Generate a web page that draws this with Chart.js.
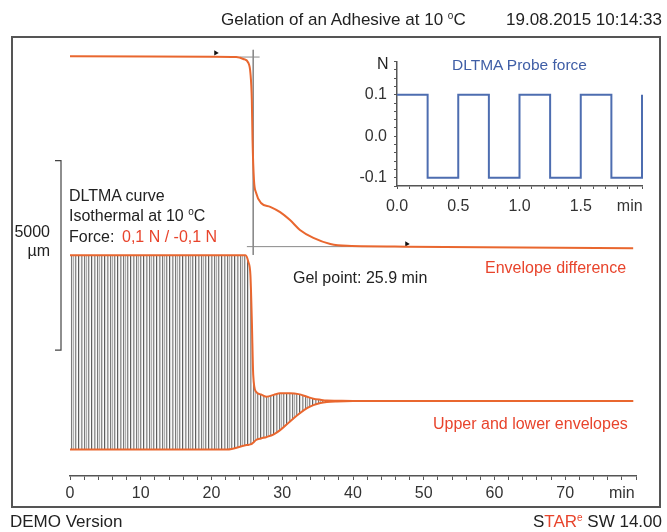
<!DOCTYPE html>
<html lang="en">
<head>
<meta charset="UTF-8" />
<title>Gelation of an Adhesive at 10 °C</title>
<script src="https://cdn.jsdelivr.net/npm/chart.js"></script>
<style>
  body { margin: 0; background: #fff; font-family: "Liberation Sans", Arial, sans-serif; color: #222; }
  .page { position: relative; width: 667px; height: 532px; overflow: hidden; }
  .frame { position: absolute; left: 11px; top: 36px; width: 650px; height: 472px; box-sizing: border-box; border: 2px solid #555; }
  canvas { position: absolute; }
  .txt { position: absolute; font-size: 16px; line-height: 20px; white-space: nowrap; }
  .big { font-size: 17px; }
  .red { color: #e8442c; }
  .blue { color: #3f5ea6; }
  sup { font-size: 10px; vertical-align: 6px; line-height: 0; }
</style>
</head>
<body>
<div class="page">
  <div class="frame"></div>
  <canvas id="mainChart" width="667" height="532" style="left:0;top:0"></canvas>
  <canvas id="insetChart" width="330" height="175" style="left:330px;top:45px"></canvas>

  <div class="txt big" style="left:221px;top:10px">Gelation of an Adhesive at 10 <sup>o</sup>C</div>
  <div class="txt big" style="right:5px;top:10px">19.08.2015 10:14:33</div>
  <div class="txt big" style="left:10px;top:512px">DEMO Version</div>
  <div class="txt big" style="right:5px;top:512px">S<span class="red">TAR<sup>e</sup></span> SW 14.00</div>

  <div class="txt" style="left:69px;top:186px">DLTMA curve</div>
  <div class="txt" style="left:69px;top:206px">Isothermal at 10 <sup>o</sup>C</div>
  <div class="txt" style="left:69px;top:227px">Force:</div>
  <div class="txt red" style="left:122px;top:227px">0,1 N / -0,1 N</div>
  <div class="txt" style="right:617px;top:222px">5000</div>
  <div class="txt" style="right:617px;top:241px">µm</div>

  <div class="txt" style="left:293px;top:268px">Gel point: 25.9 min</div>
  <div class="txt red" style="left:485px;top:258px">Envelope difference</div>
  <div class="txt red" style="left:433px;top:414px">Upper and lower envelopes</div>

  <div class="txt" style="left:377px;top:54px">N</div>
  <div class="txt blue" style="left:452px;top:55px;font-size:15.5px">DLTMA Probe force</div>
</div>

<script>
  // main curve, time in min, displacement in µm
  const gelPoint = 25.9;
  const envDiffT  = [0, 20, 23.5, 24.5, 25.2, 25.5, 25.7, 25.8, 26.0, 26.3, 27.0, 28.3, 29.7, 31.1, 32.5, 34.4, 36.8, 39.2, 47.6, 79.6];
  const envDiffUm = [10370, 10360, 10350, 10300, 10200, 9930, 9220, 8160, 7110, 6770, 6500, 6400, 6260, 6050, 5790, 5580, 5420, 5370, 5350, 5310];

  // upper and lower envelopes of the oscillating DLTMA signal
  const envT       = [0, 22.2, 24.8, 25.2, 25.5, 25.7, 25.9, 26.3, 27.0, 27.8, 28.8, 29.7, 31.1, 32.3, 33.5, 34.4, 35.4, 36.3, 37.7, 40, 79.6];
  const upperEnvUm = [5120, 5120, 5120, 4950, 4600, 3420, 1960, 1520, 1450, 1390, 1440, 1480, 1480, 1460, 1390, 1340, 1310, 1290, 1285, 1280, 1280];
  const lowerEnvUm = [0, 0, 110, 120, 135, 150, 180, 250, 290, 330, 400, 510, 740, 930, 1090, 1170, 1225, 1250, 1265, 1275, 1280];

  // gel point construction
  const gelVertUm = [10540, 5130];
  const gelStartLine = { t: [24.0, 26.8], um: 10350 };
  const gelEndLine = { t: [25.0, 48], um: 5350 };
  const markerT  = [20.6, 47.6];
  const markerUm = [10460, 5420];
  const scaleBarUm = [2620, 7620];   // 5000 µm

  const timeLabels = [0, 10, 20, 30, 40, 50, 60, 70];

  // inset: probe force square wave
  const forceT = [0, 0.25, 0.5, 0.75, 1.0, 1.25, 1.5, 1.75, 2.0];
  const forceN = [0.1, -0.1, 0.1, -0.1, 0.1, -0.1, 0.1, -0.1, 0.1];
  const forceLabels = { 0: '0.0', 5: '0.5', 10: '1.0', 15: '1.5', 19: 'min' };
  const newtonLabels = { 10: '0.1', 0: '0.0', '-10': '-0.1' };

  const family = "'Liberation Sans', Arial, sans-serif";
  const orange = '#e9672f';
  const pts = (xs, ys) => xs.map((x, i) => ({ x: x, y: Array.isArray(ys) ? ys[i] : ys }));

  // the oscillation between the envelopes is shown as vertical gray strokes
  function stripePattern() {
    const cols = ['#5f5f5f', '#d8d8d8', '#f7f7f7', '#9a9a9a', '#c4c4c4', '#fafafa', '#7a7a7a',
                  '#e0e0e0', '#b0b0b0', '#f2f2f2', '#8a8a8a', '#d2d2d2', '#fdfdfd'];
    const c = document.createElement('canvas');
    c.width = cols.length; c.height = 1;
    const g = c.getContext('2d');
    cols.forEach((col, i) => { g.fillStyle = col; g.fillRect(i, 0, 1, 1); });
    return g.createPattern(c, 'repeat');
  }

  const scaleBar = {
    id: 'scaleBar',
    afterDraw(chart) {
      const y = chart.scales.y, ctx = chart.ctx;
      const top = y.getPixelForValue(scaleBarUm[1]);
      const bot = y.getPixelForValue(scaleBarUm[0]);
      ctx.save();
      ctx.strokeStyle = '#444';
      ctx.lineWidth = 1.2;
      ctx.beginPath();
      ctx.moveTo(55, top); ctx.lineTo(61, top); ctx.lineTo(61, bot); ctx.lineTo(55, bot);
      ctx.stroke();
      ctx.restore();
    }
  };

  const line = (data, color, width, extra) => Object.assign({
    data: data, borderColor: color, borderWidth: width, pointRadius: 0, fill: false
  }, extra || {});

  new Chart(document.getElementById('mainChart'), {
    type: 'line',
    data: {
      datasets: [
        line(pts(envT, upperEnvUm), orange, 2, { fill: '+1', backgroundColor: stripePattern(), cubicInterpolationMode: 'monotone' }),
        line(pts(envT, lowerEnvUm), orange, 2, { cubicInterpolationMode: 'monotone' }),
        line(pts(envDiffT, envDiffUm), orange, 2, { cubicInterpolationMode: 'monotone' }),
        line(pts([gelPoint, gelPoint], gelVertUm), '#8a8a8a', 1),
        line(pts(gelStartLine.t, gelStartLine.um), '#8a8a8a', 1),
        line(pts(gelEndLine.t, gelEndLine.um), '#8a8a8a', 1),
        line(pts(markerT, markerUm), '#111', 0, { showLine: false, pointRadius: 3, pointStyle: 'triangle', rotation: 90, pointBackgroundColor: '#111', pointBorderWidth: 0 })
      ]
    },
    options: {
      responsive: false,
      animation: false,
      devicePixelRatio: 1,
      layout: { padding: { left: 70, right: 31, top: 40, bottom: 0 } },
      plugins: {
        legend: { display: false },
        tooltip: { enabled: false },
        filler: { drawTime: 'beforeDatasetsDraw' }
      },
      scales: {
        x: {
          type: 'linear', min: 0, max: 80,
          border: { display: true, color: '#555', width: 1.5 },
          grid: { drawOnChartArea: false, drawTicks: true, tickLength: 4, color: '#555' },
          ticks: {
            stepSize: 2, autoSkip: false, maxRotation: 0, padding: 4, color: '#333',
            font: { size: 16, family: family },
            callback: v => timeLabels.includes(v) ? String(v) : (v === 78 ? 'min' : '')
          },
          afterFit: s => { s.height = 56; }
        },
        y: { display: false, min: -700, max: 10800 }
      }
    },
    plugins: [scaleBar]
  });

  new Chart(document.getElementById('insetChart'), {
    type: 'line',
    data: {
      datasets: [line(pts(forceT, forceN), '#4d6db0', 2, { stepped: true, clip: 3 })]
    },
    options: {
      responsive: false,
      animation: false,
      devicePixelRatio: 1,
      layout: { padding: { left: 0, right: 18, top: 13, bottom: 0 } },
      plugins: { legend: { display: false }, tooltip: { enabled: false } },
      scales: {
        x: {
          type: 'linear', min: 0, max: 2,
          border: { display: true, color: '#555', width: 1.5 },
          grid: { drawOnChartArea: false, tickLength: 3, color: '#555' },
          afterBuildTicks: s => { s.ticks = Array.from({ length: 21 }, (_, i) => ({ value: i / 10 })); },
          ticks: {
            autoSkip: false, maxRotation: 0, padding: 8, color: '#333',
            font: { size: 16, family: family },
            callback: v => forceLabels[Math.round(v * 10)] || ''
          },
          afterFit: s => { s.height = 34; }
        },
        y: {
          type: 'linear', min: -0.12, max: 0.18,
          border: { display: true, color: '#555', width: 1.5 },
          grid: { drawOnChartArea: false, tickLength: 3, color: '#555' },
          afterBuildTicks: s => { s.ticks = Array.from({ length: 16 }, (_, i) => ({ value: (i * 2 - 12) / 100 })); },
          ticks: {
            autoSkip: false, padding: 7, color: '#333',
            font: { size: 16, family: family },
            callback: v => newtonLabels[Math.round(v * 100)] || ''
          },
          afterFit: s => { s.width = 67; }
        }
      }
    }
  });
</script>
</body>
</html>
